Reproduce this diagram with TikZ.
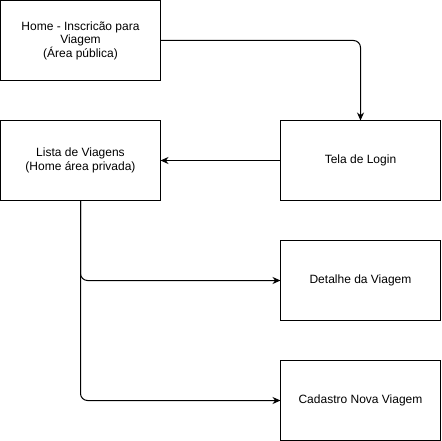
\documentclass[tikz,border=0pt]{standalone}
\usepackage{fontspec}
\setmainfont{Liberation Sans}
\usetikzlibrary{positioning,arrows.meta}

\begin{document}
\begin{tikzpicture}[x=1pt,y=-1pt,node distance=40pt and 120pt,line width=1pt,
   tela/.style={rectangle,draw,outer sep=0pt,minimum width=160pt,minimum height=80pt,align=center,
     font=\fontsize{12}{13.5}\selectfont},
   fluxo/.style={-{Stealth[length=8pt,width=7pt]},rounded corners=7pt}]
  \useasboundingbox (0,0) rectangle (441,441);

  \node[tela] (home) at (80.5,40.5) {Home - Inscricão para\\Viagem\\(Área pública)};
  \node[tela] (lista) [below=of home] {Lista de Viagens\\(Home área privada)};
  \node[tela] (login) [right=of lista] {Tela de Login};
  \node[tela] (detalhe) [below=of login] {Detalhe da Viagem};
  \node[tela] (cadastro) [below=of detalhe] {Cadastro Nova Viagem};

  \draw[fluxo] (home.east) -| (login.north);
  \draw[fluxo] (login.west) -- (lista.east);
  \foreach \to in {detalhe,cadastro} \draw[fluxo] (lista.south) |- (\to.west);
\end{tikzpicture}
\end{document}
